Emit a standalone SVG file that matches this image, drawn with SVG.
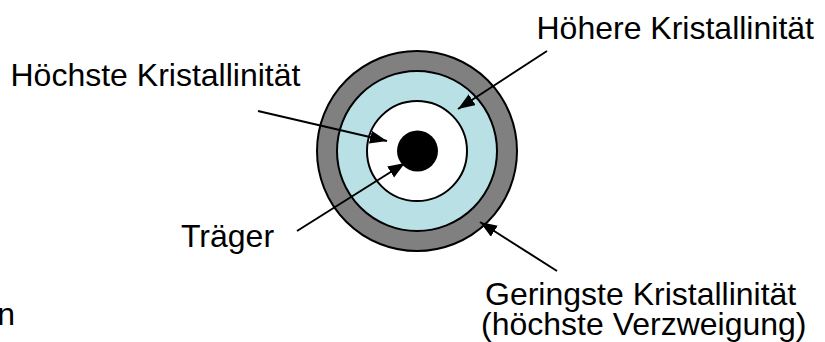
<svg xmlns="http://www.w3.org/2000/svg" width="825" height="342" viewBox="0 0 825 342">
<style>
.lbl{font-family:"Liberation Sans",Arial,sans-serif;font-size:32px;fill:#000}
.ring{stroke:#000;stroke-width:2}
.con{stroke:#000;stroke-width:2;fill:none;marker-end:url(#ah)}
</style>
<defs>
<marker id="ah" markerUnits="userSpaceOnUse" markerWidth="18" markerHeight="14" refX="17" refY="6.5" orient="auto">
<path d="M0,0 L17,6.5 L0,13 z" fill="#000"/>
</marker>
</defs>
<rect width="825" height="342" fill="#fff"/>
<g id="disc">
<circle class="ring" cx="417" cy="151" r="100" fill="#808080"/>
<circle class="ring" cx="417" cy="151" r="80" fill="#b9e0e4"/>
<circle class="ring" cx="417" cy="151" r="50" fill="#fff"/>
<circle cx="417.5" cy="151" r="20.5" fill="#000"/>
</g>
<g id="connectors">
<line class="con" x1="547" y1="51" x2="458" y2="109"/>
<line class="con" x1="258" y1="111" x2="387" y2="141"/>
<line class="con" x1="297" y1="231" x2="405" y2="163"/>
<line class="con" x1="557" y1="271" x2="480" y2="222"/>
</g>
<g id="label-hoehere"><text class="lbl" x="536.5" y="39">Höhere Kristallinität</text></g>
<g id="label-hoechste"><text class="lbl" x="10.5" y="86">Höchste Kristallinität</text></g>
<g id="label-traeger"><text class="lbl" x="181" y="247">Träger</text></g>
<g id="label-geringste"><text class="lbl" x="485" y="305">Geringste Kristallinität</text><text class="lbl" x="481" y="335">(höchste Verzweigung)</text></g>
<g id="label-n"><text class="lbl" x="-2.7" y="325">n</text></g>
</svg>
